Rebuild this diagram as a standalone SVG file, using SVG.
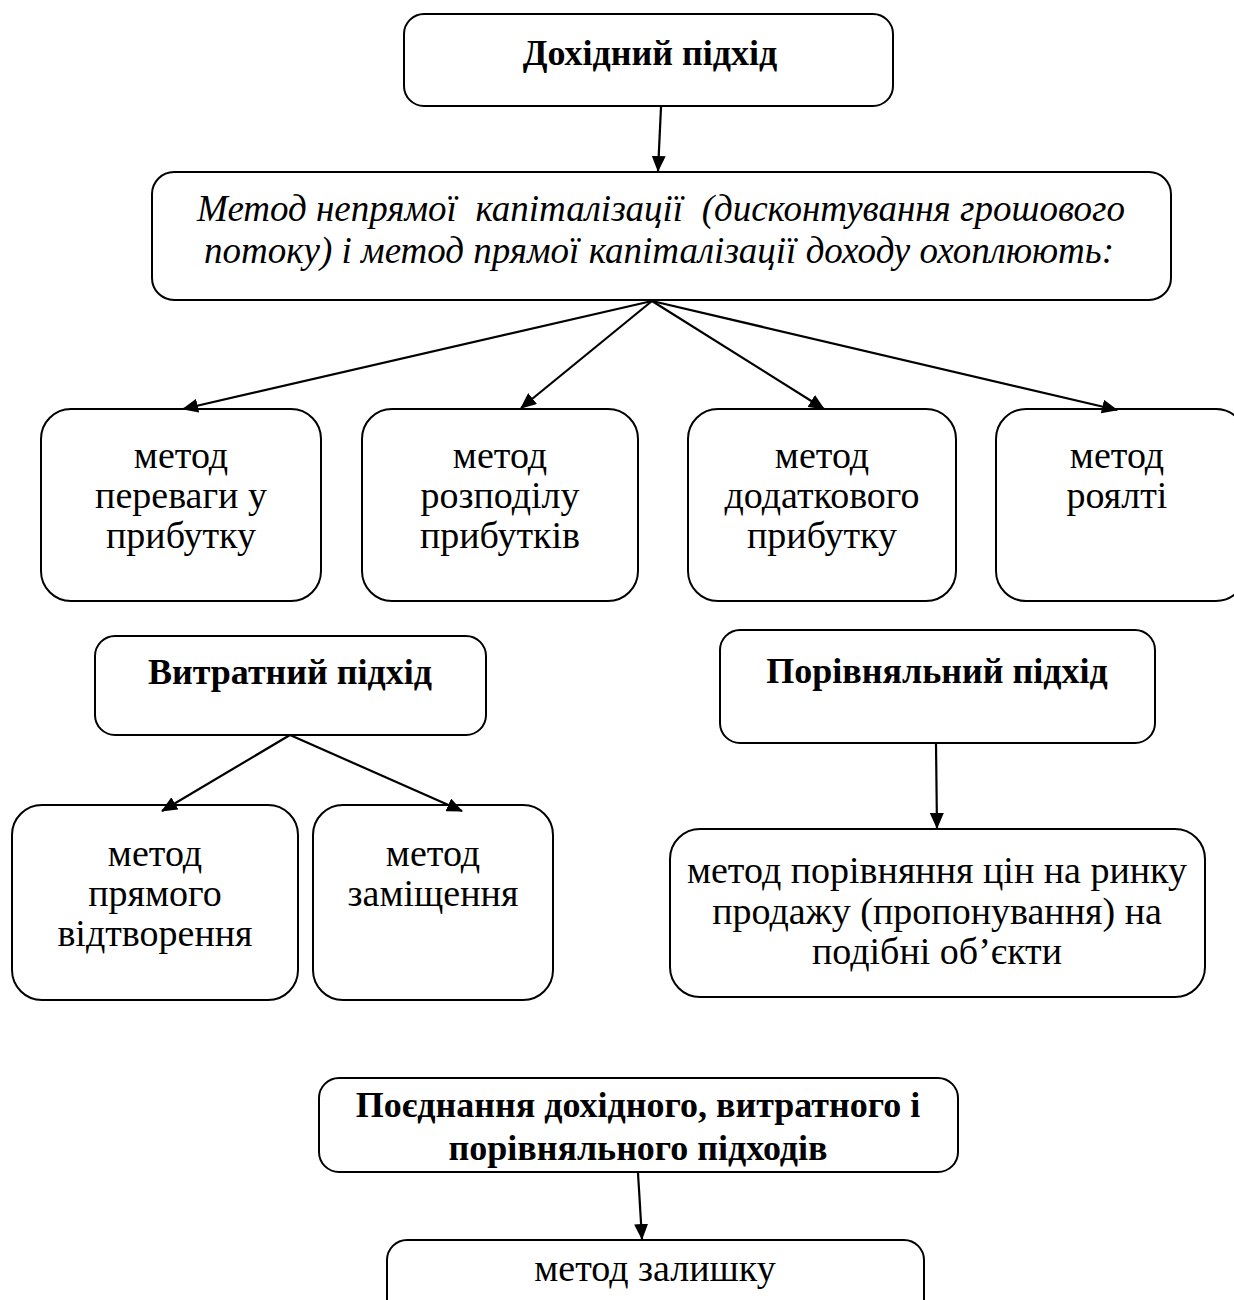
<svg xmlns="http://www.w3.org/2000/svg" width="1234" height="1300" viewBox="0 0 1234 1300">
  <style>
    .box { fill: #ffffff; stroke: #000000; stroke-width: 2; }
    .t { font-family: "Liberation Serif", "Times New Roman", serif; font-size: 38px; fill: #000000; text-anchor: middle; white-space: pre; }
    .b { font-weight: bold; font-size: 36px; }
    .i { font-style: italic; font-size: 37px; }
    .edge { stroke: #000000; stroke-width: 2.2; fill: none; marker-end: url(#arrow); }
  </style>
  <defs>
    <marker id="arrow" markerUnits="userSpaceOnUse" markerWidth="16" markerHeight="14" refX="15" refY="7" orient="auto">
      <path d="M0,0 L16,7 L0,14 Z" fill="#000000"/>
    </marker>
  </defs>
  <rect width="1234" height="1300" fill="#ffffff"/>

  <!-- income approach -->
  <g id="income">
    <rect class="box" x="404" y="14" width="489" height="92" rx="20"/>
    <text class="t b" x="650" y="65">Дохідний підхід</text>
  </g>

  <g id="capitalization">
    <rect class="box" x="152" y="172" width="1019" height="128" rx="22"/>
    <text class="t i" x="661" y="221">Метод непрямої  капіталізації  (дисконтування грошового</text>
    <text class="t i" x="659" y="263">потоку) і метод прямої капіталізації доходу охоплюють:</text>
  </g>

  <g id="m-advantage">
    <rect class="box" x="41" y="409" width="280" height="192" rx="30"/>
    <text class="t" x="181" y="468">метод</text>
    <text class="t" x="181" y="508">переваги у</text>
    <text class="t" x="181" y="548">прибутку</text>
  </g>

  <g id="m-split">
    <rect class="box" x="362" y="409" width="276" height="192" rx="30"/>
    <text class="t" x="500" y="468">метод</text>
    <text class="t" x="500" y="508">розподілу</text>
    <text class="t" x="500" y="548">прибутків</text>
  </g>

  <g id="m-excess">
    <rect class="box" x="688" y="409" width="268" height="192" rx="30"/>
    <text class="t" x="822" y="468">метод</text>
    <text class="t" x="822" y="508">додаткового</text>
    <text class="t" x="822" y="548">прибутку</text>
  </g>

  <g id="m-royalty">
    <rect class="box" x="996" y="409" width="250" height="192" rx="30"/>
    <text class="t" x="1117" y="468">метод</text>
    <text class="t" x="1117" y="508">роялті</text>
  </g>

  <!-- cost approach -->
  <g id="cost">
    <rect class="box" x="95" y="636" width="391" height="99" rx="20"/>
    <text class="t b" x="290" y="684">Витратний підхід</text>
  </g>

  <g id="m-reproduction">
    <rect class="box" x="12" y="805" width="286" height="195" rx="30"/>
    <text class="t" x="155" y="866">метод</text>
    <text class="t" x="155" y="906">прямого</text>
    <text class="t" x="155" y="946">відтворення</text>
  </g>

  <g id="m-replacement">
    <rect class="box" x="313" y="805" width="240" height="195" rx="30"/>
    <text class="t" x="433" y="866">метод</text>
    <text class="t" x="433" y="906">заміщення</text>
  </g>

  <!-- comparative approach -->
  <g id="comparative">
    <rect class="box" x="720" y="630" width="435" height="113" rx="20"/>
    <text class="t b" x="937" y="683">Порівняльний підхід</text>
  </g>

  <g id="m-market">
    <rect class="box" x="670" y="829" width="535" height="168" rx="30"/>
    <text class="t" x="937" y="883">метод порівняння цін на ринку</text>
    <text class="t" x="937" y="924">продажу (пропонування) на</text>
    <text class="t" x="937" y="964">подібні об’єкти</text>
  </g>

  <!-- combined approach -->
  <g id="combined">
    <rect class="box" x="319" y="1078" width="639" height="94" rx="20"/>
    <text class="t b" x="638" y="1117">Поєднання дохідного, витратного і</text>
    <text class="t b" x="638" y="1160">порівняльного підходів</text>
  </g>

  <g id="m-residual">
    <rect class="box" x="387" y="1240" width="537" height="80" rx="20"/>
    <text class="t" x="655" y="1281">метод залишку</text>
  </g>

  <g id="connectors">
    <line class="edge" x1="661" y1="107" x2="658" y2="171"/>
    <line class="edge" x1="652" y1="301" x2="183" y2="409"/>
    <line class="edge" x1="652" y1="301" x2="521" y2="408"/>
    <line class="edge" x1="652" y1="301" x2="824" y2="409"/>
    <line class="edge" x1="652" y1="301" x2="1117" y2="410"/>
    <line class="edge" x1="290" y1="735" x2="162" y2="811"/>
    <line class="edge" x1="290" y1="735" x2="462" y2="811"/>
    <line class="edge" x1="936" y1="744" x2="937" y2="828"/>
    <line class="edge" x1="638" y1="1173" x2="642" y2="1239"/>
  </g>
</svg>
